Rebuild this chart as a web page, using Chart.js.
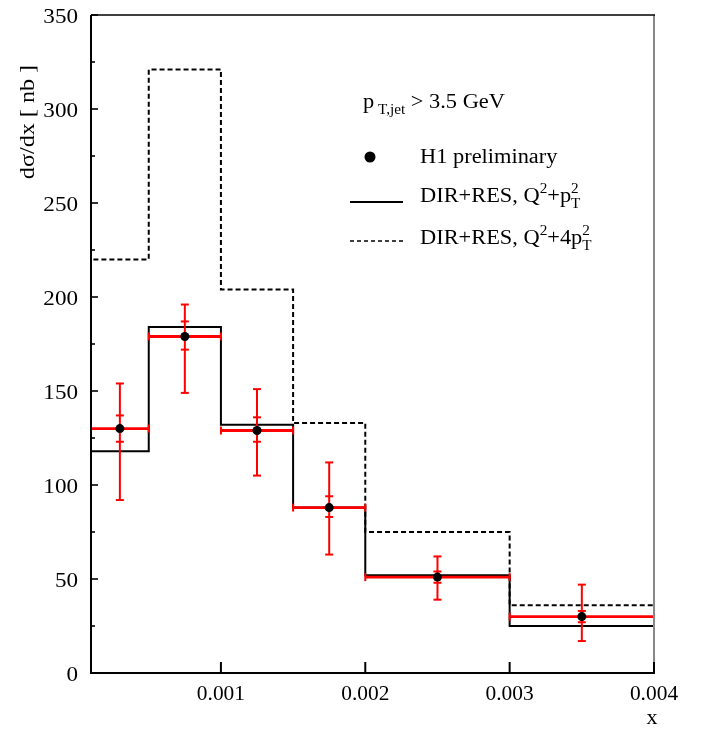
<!DOCTYPE html>
<html lang="en">
<head>
<meta charset="UTF-8">
<title>dsigma/dx H1 preliminary</title>
<script src="https://cdn.jsdelivr.net/npm/chart.js"></script>
<style>
  html, body { margin: 0; padding: 0; background: #fff; }
  #wrap { width: 704px; height: 736px; }
</style>
</head>
<body>
<div id="wrap"><canvas id="c" width="704" height="736"></canvas></div>
<script>
// bin edges in x, and the two model histograms
const binEdges = [0.0001, 0.0005, 0.001, 0.0015, 0.002, 0.003, 0.004];
const solidVals = [118, 184, 132, 88, 52, 25];    // DIR+RES, Q2+pT2
const dashedVals = [220, 321, 204, 133, 75, 36];  // DIR+RES, Q2+4pT2

// H1 preliminary data points
const dataX = [0.0003, 0.00075, 0.00125, 0.00175, 0.0025, 0.0035];
const dataY = [130, 179, 129, 88, 51, 30];
const statUp = [137, 187, 136, 94, 54, 33];
const statDn = [123, 172, 123, 83, 48, 27];
const totUp = [154, 196, 151, 112, 62, 47];
const totDn = [92, 149, 105, 63, 39, 17];

const xTicks = [0.001, 0.002, 0.003, 0.004];
const yTicks = [0, 50, 100, 150, 200, 250, 300, 350];

const SERIF = '"Liberation Serif", "Times New Roman", serif';

function histPoints(vals) {
  var pts = [{x: binEdges[0], y: 0}];
  vals.forEach(function (v, i) { pts.push({x: binEdges[i], y: v}); });
  pts.push({x: binEdges[binEdges.length - 1], y: vals[vals.length - 1]});
  pts.push({x: binEdges[binEdges.length - 1], y: 0});
  return pts;
}

function txt(ctx, s, x, y, size, align, sx) {
  ctx.save();
  ctx.font = size + 'px ' + SERIF;
  ctx.textBaseline = 'alphabetic';
  ctx.translate(x, y);
  ctx.scale(sx || 1, 1);
  var w = ctx.measureText(s).width;
  var ox = align === 'right' ? -w : (align === 'center' ? -w / 2 : 0);
  ctx.fillText(s, ox, 0);
  ctx.restore();
  return w * (sx || 1);
}

// rich text: parts [text, kind] with kind '', 'sup', 'sub', 'supsub'
function rich(ctx, parts, x, y, size, sx) {
  var cx = x;
  parts.forEach(function (p) {
    var s = p[0], k = p[1];
    if (k === 'sup') {
      cx += txt(ctx, s, cx, y - size * 0.45, size * 0.68, 'left', sx);
    } else if (k === 'sub') {
      cx += txt(ctx, s, cx, y + size * 0.3, size * 0.68, 'left', sx);
    } else if (k === 'supsub') {
      var a = p[0].split('|');
      var w1 = txt(ctx, a[0], cx, y - size * 0.45, size * 0.68, 'left', sx);
      var w2 = txt(ctx, a[1], cx, y + size * 0.3, size * 0.68, 'left', sx);
      cx += Math.max(w1, w2);
    } else {
      cx += txt(ctx, s, cx, y, size, 'left', sx);
    }
  });
}

function drawErrors(chart) {
  var ctx = chart.ctx, xs = chart.scales.x, ys = chart.scales.y;
  ctx.save();
  ctx.strokeStyle = '#ff0000';
  for (var i = 0; i < dataX.length; i++) {
    var px = xs.getPixelForValue(dataX[i]);
    ctx.lineWidth = 2;
    ctx.beginPath();
    ctx.moveTo(px, ys.getPixelForValue(totDn[i]));
    ctx.lineTo(px, ys.getPixelForValue(totUp[i]));
    ctx.stroke();
    [totUp[i], totDn[i], statUp[i], statDn[i]].forEach(function (v) {
      var py = ys.getPixelForValue(v);
      ctx.beginPath();
      ctx.moveTo(px - 4, py);
      ctx.lineTo(px + 4, py);
      ctx.stroke();
    });
    var py0 = ys.getPixelForValue(dataY[i]);
    var xl = xs.getPixelForValue(binEdges[i]), xr = xs.getPixelForValue(binEdges[i + 1]);
    ctx.lineWidth = 2.8;
    ctx.beginPath();
    ctx.moveTo(xl, py0);
    ctx.lineTo(xr, py0);
    ctx.stroke();
    ctx.lineWidth = 2;
    [xl, xr].forEach(function (ex) {
      ctx.beginPath();
      ctx.moveTo(ex, py0 - 4);
      ctx.lineTo(ex, py0 + 4);
      ctx.stroke();
    });
  }
  ctx.restore();
}

const decor = {
  id: 'decor',
  afterDatasetDraw: function (chart, args) {
    // red bars sit above the model histograms, below the black dots
    if (args.index === 1) drawErrors(chart);
  },
  afterDraw: function (chart) {
    var ctx = chart.ctx, xs = chart.scales.x, ys = chart.scales.y, a = chart.chartArea;
    ctx.save();
    // frame
    ctx.lineWidth = 2;
    ctx.strokeStyle = '#888888';
    ctx.beginPath(); ctx.moveTo(a.right, a.top); ctx.lineTo(a.right, a.bottom); ctx.stroke();
    ctx.strokeStyle = '#000';
    ctx.lineWidth = 1.6;
    ctx.beginPath(); ctx.moveTo(a.left, a.top); ctx.lineTo(a.right + 1, a.top); ctx.stroke();
    ctx.lineWidth = 2;
    ctx.beginPath();
    ctx.moveTo(a.left, a.top); ctx.lineTo(a.left, a.bottom); ctx.lineTo(a.right + 1, a.bottom);
    ctx.stroke();
    // y ticks, inward
    ctx.lineWidth = 1.6;
    for (var v = 0; v <= 350; v += 25) {
      var py = ys.getPixelForValue(v);
      ctx.beginPath();
      ctx.moveTo(a.left, py);
      ctx.lineTo(a.left + (v % 50 === 0 ? 7 : 4), py);
      ctx.stroke();
    }
    // x ticks, inward
    ctx.lineWidth = 2;
    xTicks.forEach(function (t) {
      var px = xs.getPixelForValue(t);
      ctx.beginPath();
      ctx.moveTo(px, a.bottom);
      ctx.lineTo(px, a.bottom - 11);
      ctx.stroke();
    });
    // tick labels
    ctx.fillStyle = '#000';
    yTicks.forEach(function (t) {
      txt(ctx, String(t), 78, ys.getPixelForValue(t) + 7.5, 22, 'right', 1.05);
    });
    xTicks.forEach(function (t) {
      txt(ctx, t.toFixed(3), xs.getPixelForValue(t), 700, 21, 'center', 1.02);
    });
    // axis titles
    txt(ctx, 'x', 652, 724, 22, 'center', 1);
    ctx.save();
    ctx.translate(34, 122);
    ctx.rotate(-Math.PI / 2);
    txt(ctx, 'd\u03c3/dx [ nb ]', 0, 0, 21, 'center', 1.15);
    ctx.restore();
    // legend
    var fs = 20, sx = 1.12;
    rich(ctx, [['p', ''], [' T,jet', 'sub'], [' > 3.5 GeV', '']], 363, 108, fs, sx);
    ctx.beginPath();
    ctx.arc(370, 157, 5.5, 0, Math.PI * 2);
    ctx.fill();
    rich(ctx, [['H1 preliminary', '']], 420, 163, fs, sx);
    ctx.lineWidth = 2;
    ctx.beginPath(); ctx.moveTo(350, 202); ctx.lineTo(403, 202); ctx.stroke();
    rich(ctx, [['DIR+RES, Q', ''], ['2', 'sup'], ['+p', ''], ['2|T', 'supsub']], 420, 202, fs, sx);
    ctx.lineWidth = 1.5;
    ctx.setLineDash([4, 3]);
    ctx.beginPath(); ctx.moveTo(350, 241); ctx.lineTo(403, 241); ctx.stroke();
    ctx.setLineDash([]);
    rich(ctx, [['DIR+RES, Q', ''], ['2', 'sup'], ['+4p', ''], ['2|T', 'supsub']], 420, 244, fs, sx);
    ctx.restore();
  }
};

new Chart(document.getElementById('c'), {
  type: 'line',
  data: {
    datasets: [
      {
        label: 'DIR+RES, Q2+4pT2',
        data: histPoints(dashedVals),
        stepped: 'before',
        borderColor: '#000',
        borderWidth: 2,
        borderDash: [5, 3],
        pointRadius: 0,
        fill: false,
        order: 3
      },
      {
        label: 'DIR+RES, Q2+pT2',
        data: histPoints(solidVals),
        stepped: 'before',
        borderColor: '#000',
        borderWidth: 2,
        pointRadius: 0,
        fill: false,
        order: 2
      },
      {
        label: 'H1 preliminary',
        data: dataX.map(function (x, i) { return {x: x, y: dataY[i]}; }),
        showLine: false,
        pointRadius: 4.5,
        pointBackgroundColor: '#000',
        pointBorderColor: '#000',
        pointBorderWidth: 0,
        order: 1
      }
    ]
  },
  options: {
    responsive: false,
    animation: false,
    layout: { padding: { left: 0, top: 15, right: 50, bottom: 0 } },
    plugins: { legend: { display: false }, tooltip: { enabled: false } },
    scales: {
      x: {
        type: 'linear', min: 0.0001, max: 0.004,
        grid: { display: false }, border: { display: false },
        ticks: { display: false },
        afterFit: function (s) { s.height = 63; }
      },
      y: {
        type: 'linear', min: 0, max: 350,
        grid: { display: false }, border: { display: false },
        ticks: { display: false },
        afterFit: function (s) { s.width = 91; }
      }
    }
  },
  plugins: [decor]
});
</script>
</body>
</html>
